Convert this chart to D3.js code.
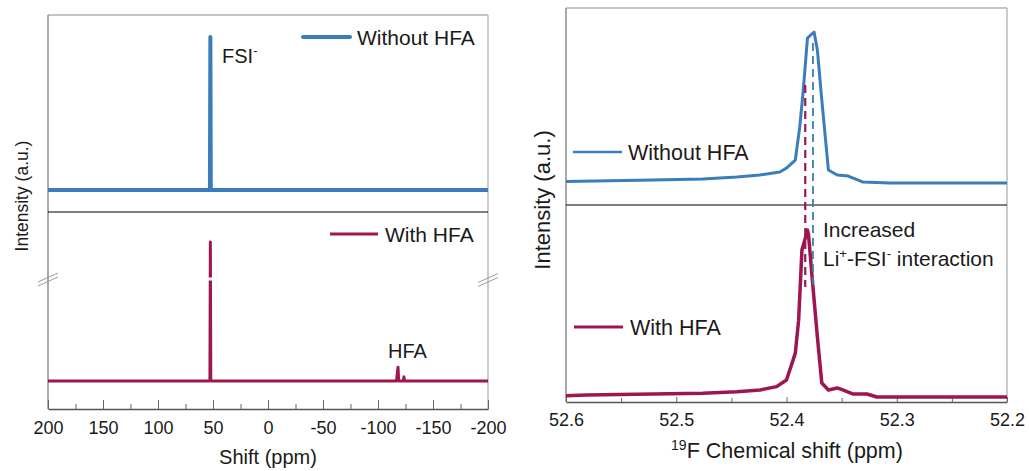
<!DOCTYPE html>
<html><head><meta charset="utf-8">
<script src="https://cdn.jsdelivr.net/npm/d3@7"></script>
<style>body{margin:0;background:#fff}svg{display:block}text{font-family:"Liberation Sans",Arial,sans-serif;fill:#1a1a1a}</style>
</head><body><svg id="c" width="1029" height="471"></svg>
<script>
// ---- data ----
const wideShift = [200, 53.2, 52.8, 52.4, 52.0, 51.6, -200];
const wideWithout = [0, 0, 0.5, 100, 0.5, 0, 0];
const wideWithShift = [200, 53.2, 52.8, 52.4, 52.0, 51.6, -116.8, -117.6, -118.2, -118.8, -123.0, -123.6, -124.2, -200];
const wideWith = [0, 0, 0.5, 100, 0.5, 0, 0, 6, 10, 0, 0, 3, 0, 0];

const zoomShiftWithout = [52.6, 52.521, 52.476, 52.445, 52.424, 52.406, 52.400, 52.392, 52.388, 52.385, 52.381, 52.375, 52.372, 52.368, 52.362, 52.354, 52.344, 52.331, 52.306, 52.2];
const zoomWithout = [0.9, 2.0, 2.6, 4.0, 5.3, 7.3, 9.9, 15.2, 37.1, 59.6, 96.0, 100, 88.1, 55.0, 8.6, 5.3, 4.6, 0.7, 0, 0];
const zoomShiftWith = [52.6, 52.581, 52.521, 52.476, 52.445, 52.424, 52.409, 52.400, 52.392, 52.389, 52.386, 52.383, 52.381, 52.380, 52.376, 52.372, 52.368, 52.362, 52.354, 52.349, 52.340, 52.327, 52.318, 52.2];
const zoomWith = [0.8, 1.2, 1.8, 2.2, 3.2, 4.2, 6.2, 10.2, 26.3, 46, 88, 95, 100, 97, 66, 36, 8.4, 4.2, 5.4, 4.2, 1.8, 1.8, 0, 0];

const wideMajorTicks = [200, 150, 100, 50, 0, -50, -100, -150, -200];
const wideMinorTicks = [175, 125, 75, 25, -25, -75, -125, -175];
const zoomMajorTicks = [52.6, 52.5, 52.4, 52.3, 52.2];
const zoomMinorTicks = [52.55, 52.45, 52.35, 52.25];

const seriesNames = ["Without HFA", "With HFA"];
const peakShifts = {withHFA: 52.383, withoutHFA: 52.376};

// ---- styles ----
const BLUE = "#3b7dbb", RED = "#9d1650", GRAY = "#8c8c8c";
const svg = d3.select("#c");

function panel(o) {
  const g = svg.append("g");
  const x = d3.scaleLinear().domain(o.xDomain).range([o.left, o.right]);
  const yT = d3.scaleLinear().domain(o.yTopDomain).range([o.mid, o.top]);
  const yB = d3.scaleLinear().domain(o.yBotDomain).range([o.bottom, o.mid]);
  const id = "clip" + o.key;
  svg.append("clipPath").attr("id", id).append("rect")
    .attr("x", o.left).attr("y", o.top).attr("width", o.right - o.left).attr("height", o.bottom - o.top);
  // frame
  g.append("line").attr("x1", o.left).attr("x2", o.right).attr("y1", o.top).attr("y2", o.top).attr("stroke", GRAY).attr("stroke-width", 1.2);
  g.append("line").attr("x1", o.left).attr("x2", o.left).attr("y1", o.top).attr("y2", o.bottom).attr("stroke", GRAY).attr("stroke-width", 1.5);
  g.append("line").attr("x1", o.right).attr("x2", o.right).attr("y1", o.top).attr("y2", o.bottom).attr("stroke", "#bbb").attr("stroke-width", 1.5);
  g.append("line").attr("x1", o.left).attr("x2", o.right).attr("y1", o.mid).attr("y2", o.mid).attr("stroke", "#000").attr("stroke-width", 1);
  // axes
  const ax = d3.axisBottom(x).tickValues(o.major).tickSizeInner(-o.majorLen).tickSizeOuter(0).tickPadding(o.pad).tickFormat(o.fmt);
  const ga = g.append("g").attr("transform", `translate(0,${o.bottom})`).call(ax);
  ga.select(".domain").attr("stroke", "#555").attr("stroke-width", 1.5);
  ga.selectAll(".tick line").attr("stroke", "#666").attr("stroke-width", 1);
  ga.selectAll(".tick text").attr("font-size", o.tickFont).attr("font-family", '"Liberation Sans",Arial,sans-serif').attr("fill", "#1a1a1a");
  const axm = d3.axisBottom(x).tickValues(o.minor).tickSizeInner(-o.minorLen).tickSizeOuter(0).tickFormat("");
  const gm = g.append("g").attr("transform", `translate(0,${o.bottom})`).call(axm);
  gm.select(".domain").remove();
  gm.selectAll(".tick line").attr("stroke", "#666").attr("stroke-width", 1);
  return {g, x, yT, yB, id};
}

function drawLine(p, xs, ys, yScale, color, w) {
  const pts = xs.map((d, i) => [d, ys[i]]);
  p.g.append("path").datum(pts).attr("clip-path", `url(#${p.id})`)
    .attr("d", d3.line().x(d => p.x(d[0])).y(d => yScale(d[1])))
    .attr("fill", "none").attr("stroke", color).attr("stroke-width", w).attr("stroke-linejoin", "round");
}

const hyphenInt = d => String(Math.round(d));
const oneDec = d => d.toFixed(1);

// ---- left panel ----
const L = panel({key: "L", left: 48, right: 488, top: 15, mid: 212, bottom: 409,
  xDomain: [200, -200], yTopDomain: [-14.4, 114.4], yBotDomain: [-20.1, 121.6],
  major: wideMajorTicks, minor: wideMinorTicks, majorLen: 9, minorLen: 5, pad: 12.6, tickFont: 18, fmt: hyphenInt});
drawLine(L, wideShift, wideWithout, L.yT, BLUE, 4);
drawLine(L, wideWithShift, wideWith, L.yB, RED, 3);
// axis break gap on the spike
L.g.append("rect").attr("x", L.x(52.4) - 4).attr("y", 277.5).attr("width", 8).attr("height", 3).attr("fill", "#fff");
// break marks
[[48, 279.5], [488, 280]].forEach(([cx, cy]) => {
  [-2, 2].forEach(off => {
    L.g.append("line").attr("x1", cx - 10).attr("y1", cy + 4.5 + off).attr("x2", cx + 10).attr("y2", cy - 4.5 + off)
      .attr("stroke", "#999").attr("stroke-width", 1);
  });
});
// legends
L.g.append("line").attr("x1", 303).attr("x2", 350).attr("y1", 37).attr("y2", 37).attr("stroke", BLUE).attr("stroke-width", 4).attr("stroke-linecap", "round");
L.g.append("text").attr("x", 357).attr("y", 44.5).attr("font-size", 21).text(seriesNames[0]);
L.g.append("line").attr("x1", 330).attr("x2", 378).attr("y1", 234).attr("y2", 234).attr("stroke", RED).attr("stroke-width", 3);
L.g.append("text").attr("x", 385).attr("y", 241.5).attr("font-size", 21).text(seriesNames[1]);
// annotations
const fsi = L.g.append("text").attr("x", 222).attr("y", 63).attr("font-size", 20);
fsi.append("tspan").text("FSI");
fsi.append("tspan").attr("dy", -8).attr("font-size", 13).text("-");
L.g.append("text").attr("x", 388).attr("y", 357.5).attr("font-size", 20).text("HFA");
// axis titles
L.g.append("text").attr("x", 268).attr("y", 464).attr("text-anchor", "middle").attr("font-size", 20).text("Shift (ppm)");
L.g.append("text").attr("transform", "translate(28,196) rotate(-90)").attr("text-anchor", "middle").attr("font-size", 17.5).text("Intensity (a.u.)");

// ---- right panel ----
const R = panel({key: "R", left: 566, right: 1007, top: 8, mid: 205, bottom: 402,
  xDomain: [52.6, 52.2], yTopDomain: [-14.6, 115.9], yBotDomain: [-3.0, 115.0],
  major: zoomMajorTicks, minor: zoomMinorTicks, majorLen: 5, minorLen: 4, pad: 11.6, tickFont: 18, fmt: oneDec});
drawLine(R, zoomShiftWithout, zoomWithout, R.yT, BLUE, 3);
drawLine(R, zoomShiftWith, zoomWith, R.yB, RED, 3.5);
// dashed guides
R.g.append("line").attr("x1", R.x(peakShifts.withHFA)).attr("x2", R.x(peakShifts.withHFA))
  .attr("y1", R.yT(64.9)).attr("y2", R.yB(65.9)).attr("stroke", RED).attr("stroke-width", 2.2).attr("stroke-dasharray", "8,5");
R.g.append("line").attr("x1", R.x(peakShifts.withoutHFA)).attr("x2", R.x(peakShifts.withoutHFA))
  .attr("y1", R.yT(92.7)).attr("y2", R.yB(67)).attr("stroke", BLUE).attr("stroke-width", 1.8).attr("stroke-dasharray", "8,5");
// legends
R.g.append("line").attr("x1", 573).attr("x2", 622).attr("y1", 152).attr("y2", 152).attr("stroke", BLUE).attr("stroke-width", 2.5);
R.g.append("text").attr("x", 628).attr("y", 160).attr("font-size", 21.5).text(seriesNames[0]);
R.g.append("line").attr("x1", 574).attr("x2", 623).attr("y1", 327).attr("y2", 327).attr("stroke", RED).attr("stroke-width", 3);
R.g.append("text").attr("x", 630).attr("y", 335).attr("font-size", 21.5).text(seriesNames[1]);
// annotation
R.g.append("text").attr("x", 823).attr("y", 237).attr("font-size", 21).text("Increased");
const li = R.g.append("text").attr("x", 823).attr("y", 266).attr("font-size", 21);
li.append("tspan").text("Li");
li.append("tspan").attr("dy", -8).attr("font-size", 13).text("+");
li.append("tspan").attr("dy", 8).text("-FSI");
li.append("tspan").attr("dy", -8).attr("font-size", 13).text("-");
li.append("tspan").attr("dy", 8).text(" interaction");
// axis titles
const xt = R.g.append("text").attr("x", 787).attr("y", 458).attr("text-anchor", "middle").attr("font-size", 21.5);
xt.append("tspan").attr("dy", -8).attr("font-size", 14).text("19");
xt.append("tspan").attr("dy", 8).text("F Chemical shift (ppm)");
R.g.append("text").attr("transform", "translate(550,200) rotate(-90)").attr("text-anchor", "middle").attr("font-size", 22).text("Intensity (a.u.)");
</script></body></html>
